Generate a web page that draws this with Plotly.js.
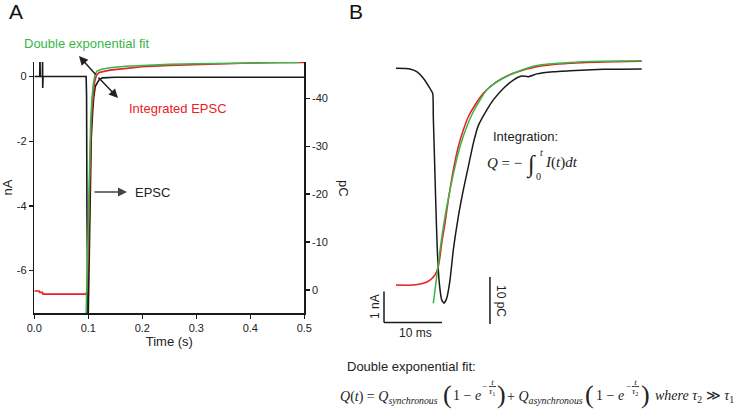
<!DOCTYPE html>
<html>
<head>
<meta charset="utf-8">
<script src="https://cdn.plot.ly/plotly-3.0.1.min.js"></script>
<style>html,body{margin:0;padding:0;background:#fff;}#chart{width:736px;height:412px;}</style>
</head>
<body>
<div id="chart"></div>
<script>
// ---------- Panel A data (time in s) ----------
const A_TIME_EPSC = [0, 0.0100, 0.0105, 0.0110, 0.0150, 0.0153, 0.0156, 0.0162, 0.0960, 0.0968, 0.0975, 0.0980, 0.0986, 0.0994, 0.1000, 0.1010, 0.1025, 0.1040, 0.1055, 0.1080, 0.1100, 0.1130, 0.1160, 0.1200, 0.1260, 0.1500, 0.3000, 0.5000];
const A_EPSC_NA   = [0, 0, 0.6, 0, 0, 0.6, -0.35, 0, 0, -0.6, -4.2, -6.8, -7.5, -7.58, -7.3, -6.0, -4.0, -2.7, -1.9, -1.1, -0.65, -0.3, -0.2, -0.1, -0.04, -0.02, -0.02, -0.02];

const A_TIME_INT = [0, 0.0090, 0.0100, 0.0150, 0.0160, 0.0955, 0.0975, 0.0990, 0.1000, 0.1010, 0.1020, 0.1035, 0.1050, 0.1070, 0.1090, 0.1115, 0.1150, 0.1200, 0.1400, 0.1700, 0.2000, 0.2500, 0.3000, 0.3500, 0.4000, 0.4500, 0.5000];
const A_INT_PC   = [0.2, 0.2, 0.5, 0.5, 0.85, 0.85, 0.3, -3, -8, -15, -21, -28, -33.5, -38, -41, -43.3, -44.8, -45.4, -45.9, -46.3, -46.6, -46.9, -47.1, -47.3, -47.4, -47.5, -47.5];

const A_TIME_FIT = [0.0960, 0.0970, 0.0980, 0.0990, 0.1000, 0.1012, 0.1027, 0.1045, 0.1065, 0.1090, 0.1120, 0.1160, 0.1250, 0.1400, 0.1700, 0.2000, 0.2500, 0.3000, 0.3500, 0.4000, 0.4500, 0.4900];
const A_FIT_PC   = [5.5, 0, -6, -12, -18, -24, -30, -35.5, -39.5, -42.8, -44.8, -45.7, -46.1, -46.4, -46.7, -46.9, -47.1, -47.25, -47.35, -47.45, -47.5, -47.5];

// ---------- Panel B data (time in ms) ----------
const B_TIME_EPSC = [90.0, 92.41, 93.57, 94.71, 95.86, 96.33, 96.43, 96.60, 96.84, 97.12, 97.47, 97.88, 98.28, 98.74, 99.31, 99.88, 100.74, 101.60, 102.47, 103.33, 104.19, 105.64, 106.78, 108.50, 110.22, 111.67, 112.81, 114.26, 117.12, 120.0, 125.74, 128.62, 132.36];
const B_EPSC_NA   = [0, -0.02, -0.11, -0.32, -0.65, -0.81, -1.56, -2.64, -4.25, -5.86, -6.94, -7.47, -7.58, -7.42, -6.83, -5.86, -4.79, -3.93, -3.17, -2.42, -1.85, -1.35, -1.02, -0.65, -0.38, -0.25, -0.27, -0.18, -0.11, -0.08, -0.03, -0.03, -0.02];

const B_TIME_INT = [90, 92.98, 94.71, 95.86, 96.72, 97.29, 97.59, 97.88, 98.45, 99.02, 99.88, 100.74, 101.60, 102.47, 103.62, 105.05, 107.36, 110.22, 114.26, 120.0, 125.74, 132.36];
const B_INT_PC   = [0, 0, -0.36, -1.06, -2.13, -3.89, -6.02, -8.87, -13.13, -18.09, -24.47, -29.43, -32.98, -35.81, -38.30, -40.79, -43.26, -45.04, -46.45, -47.17, -47.45, -47.60];

const B_TIME_FIT = [96.43, 97.02, 97.59, 98.45, 99.31, 100.17, 101.03, 102.19, 103.33, 104.48, 105.64, 107.93, 110.81, 114.26, 120.0, 125.74, 132.36];
const B_FIT_PC   = [3.89, -1.77, -7.45, -14.53, -20.21, -25.17, -29.43, -33.68, -36.87, -39.36, -41.49, -43.62, -45.32, -46.7, -47.35, -47.6, -47.72];

// ---------- Tick labels ----------
const TIME_TICKS = [0, 0.1, 0.2, 0.3, 0.4, 0.5];
const TIME_TICKTEXT = ['0.0', '0.1', '0.2', '0.3', '0.4', '0.5'];
const NA_TICKS = [0, -2, -4, -6];
const NA_TICKTEXT = ['0', '-2', '-4', '-6'];
const PC_TICKS = [-40, -30, -20, -10, 0];
const PC_TICKTEXT = ['-40', '-30', '-20', '-10', '0'];

// Scale bars for panel B (1 nA, 10 ms, 10 pC)
const SCALE_T0 = 87.93, SCALE_MS = 10, SCALE_NA_TOP = -7.2, SCALE_NA = 1;
const SCALE_PC_T = 106.2, SCALE_PC_TOP = -1.7, SCALE_PC = 10;

const W = 736, H = 412;
const px = v => v / W, py = v => 1 - v / H;

const BLACK = '#1a1a1a', RED = '#ec1c24', GREEN = '#39b54a';
const SANS = 'Liberation Sans, Arial, sans-serif';
const SERIF = 'Liberation Serif, Times New Roman, serif';

const traces = [
  {x: A_TIME_EPSC, y: A_EPSC_NA, xaxis: 'x', yaxis: 'y', mode: 'lines', line: {color: BLACK, width: 1.6}},
  {x: A_TIME_INT, y: A_INT_PC, xaxis: 'x', yaxis: 'y2', mode: 'lines', line: {color: RED, width: 1.6}},
  {x: A_TIME_FIT, y: A_FIT_PC, xaxis: 'x', yaxis: 'y2', mode: 'lines', line: {color: GREEN, width: 1.6}},
  {x: B_TIME_EPSC, y: B_EPSC_NA, xaxis: 'x2', yaxis: 'y3', mode: 'lines', line: {color: BLACK, width: 1.5, shape: 'spline', smoothing: 0.5}},
  {x: B_TIME_INT, y: B_INT_PC, xaxis: 'x2', yaxis: 'y4', mode: 'lines', line: {color: RED, width: 1.5, shape: 'spline', smoothing: 0.6}},
  {x: B_TIME_FIT, y: B_FIT_PC, xaxis: 'x2', yaxis: 'y4', mode: 'lines', line: {color: GREEN, width: 1.5, shape: 'spline', smoothing: 0.6}}
];

const axCommon = {showgrid: false, zeroline: false, showline: true, linecolor: BLACK, linewidth: 1.5,
  ticks: 'outside', ticklen: 4, tickwidth: 1.5, tickcolor: BLACK, tickfont: {family: SANS, size: 11, color: '#222'}};

function txt(text, x, y, opts) {
  return Object.assign({text: text, x: px(x), y: py(y), xref: 'paper', yref: 'paper', showarrow: false,
    xanchor: 'center', yanchor: 'middle', font: {family: SANS, size: 13, color: '#222'}}, opts || {});
}
function arrow(hx, hy, tx, ty, color) {
  return {text: '', x: px(hx), y: py(hy), xref: 'paper', yref: 'paper', showarrow: true,
    ax: tx - hx, ay: ty - hy, arrowhead: 2, arrowsize: 1.2, arrowwidth: 1.5, arrowcolor: color};
}
const mathFont = s => ({family: SERIF, size: s, color: '#222'});

const annotations = [
  txt('A', 16, 12, {font: {family: SANS, size: 21, color: '#111'}}),
  txt('B', 356, 12, {font: {family: SANS, size: 21, color: '#111'}}),
  txt('Double exponential fit', 86.5, 44, {font: {family: SANS, size: 13, color: GREEN}}),
  txt('Integrated EPSC', 177.5, 108.5, {font: {family: SANS, size: 13, color: RED}}),
  txt('EPSC', 152, 192.5, {font: {family: SANS, size: 13, color: '#222'}}),
  arrow(79, 56, 97, 76, '#222'),
  arrow(118, 98, 97, 76, '#222'),
  arrow(127, 192, 93, 192, '#444'),
  txt('pC', 344, 188, {textangle: 90, font: {family: SANS, size: 13, color: '#222'}}),
  // Panel B labels
  txt('Integration:', 525, 136.5),
  txt('<i>Q</i> = −', 524, 163, {xanchor: 'right', font: mathFont(15)}),
  txt('∫', 531, 165, {font: mathFont(24)}),
  txt('<i>t</i>', 541, 153, {font: mathFont(10)}),
  txt('0', 538, 177, {font: mathFont(10)}),
  txt('<i>I</i>(<i>t</i>)<i>dt</i>', 543, 163, {xanchor: 'left', font: mathFont(15)}),
  txt('1 nA', 375, 307, {textangle: -90, font: {family: SANS, size: 12, color: '#222'}}),
  txt('10 ms', 416, 333, {font: {family: SANS, size: 12, color: '#222'}}),
  txt('10 pC', 501, 301, {textangle: 90, font: {family: SANS, size: 12, color: '#222'}}),
  txt('Double exponential fit:', 411.5, 366.5),
  // Bottom formula
  txt('<i>Q</i>(<i>t</i>) = <i>Q</i><sub><i>synchronous</i></sub>', 338, 397, {xanchor: 'left', font: mathFont(14)}),
  txt('(', 447, 394, {font: mathFont(26)}),
  txt('1 − <i>e</i>', 451, 395, {xanchor: 'left', font: mathFont(14)}),
  txt('−', 485, 386, {font: mathFont(9)}),
  txt('<u> <i>t</i> </u>', 492, 382, {font: mathFont(9)}),
  txt('<i>τ</i><sub>1</sub>', 492, 391, {font: mathFont(9)}),
  txt(')', 501, 394, {font: mathFont(26)}),
  txt('+ <i>Q</i><sub><i>asynchronous</i></sub>', 505, 397, {xanchor: 'left', font: mathFont(14)}),
  txt('(', 589, 394, {font: mathFont(26)}),
  txt('1 − <i>e</i>', 594, 395, {xanchor: 'left', font: mathFont(14)}),
  txt('−', 628, 386, {font: mathFont(9)}),
  txt('<u> <i>t</i> </u>', 635, 382, {font: mathFont(9)}),
  txt('<i>τ</i><sub>2</sub>', 635, 391, {font: mathFont(9)}),
  txt(')', 645, 394, {font: mathFont(26)}),
  txt('<i>where τ</i><sub>2</sub> ≫ <i>τ</i><sub>1</sub>', 653, 396, {xanchor: 'left', font: mathFont(14)})
];

const shapes = [
  {type: 'line', xref: 'x2', yref: 'y3', x0: SCALE_T0, x1: SCALE_T0, y0: SCALE_NA_TOP, y1: SCALE_NA_TOP - SCALE_NA, line: {color: BLACK, width: 1.5}},
  {type: 'line', xref: 'x2', yref: 'y3', x0: SCALE_T0, x1: SCALE_T0 + SCALE_MS, y0: SCALE_NA_TOP - SCALE_NA, y1: SCALE_NA_TOP - SCALE_NA, line: {color: BLACK, width: 1.5}},
  {type: 'line', xref: 'x2', yref: 'y4', x0: SCALE_PC_T, x1: SCALE_PC_T, y0: SCALE_PC_TOP, y1: SCALE_PC_TOP + SCALE_PC, line: {color: BLACK, width: 1.5}}
];

const layout = {
  width: W, height: H, margin: {l: 0, r: 0, t: 0, b: 0},
  paper_bgcolor: '#fff', plot_bgcolor: 'rgba(0,0,0,0)', showlegend: false,
  xaxis: Object.assign({}, axCommon, {domain: [px(34.3), px(304.3)], range: [0, 0.5], anchor: 'y',
    tickvals: TIME_TICKS, ticktext: TIME_TICKTEXT,
    title: {text: 'Time (s)', font: {family: SANS, size: 13, color: '#222'}, standoff: 4}}),
  yaxis: Object.assign({}, axCommon, {domain: [1 - 313 / H, 1 - 62 / H], range: [-7.31, 0.45], anchor: 'x',
    tickvals: NA_TICKS, ticktext: NA_TICKTEXT,
    title: {text: 'nA', font: {family: SANS, size: 13, color: '#222'}, standoff: 2}}),
  yaxis2: Object.assign({}, axCommon, {overlaying: 'y', side: 'right', anchor: 'x', range: [4.8, -47.6],
    tickvals: PC_TICKS, ticktext: PC_TICKTEXT}),
  xaxis2: {domain: [px(380), px(660)], range: [87.24, 135.52], anchor: 'y3', visible: false},
  yaxis3: {domain: [1 - 340 / H, 1 - 40 / H], range: [-8.765, 0.913], anchor: 'x2', visible: false},
  yaxis4: {overlaying: 'y3', anchor: 'x2', range: [11.70, -52.13], visible: false},
  annotations: annotations,
  shapes: shapes
};

Plotly.newPlot('chart', traces, layout, {displayModeBar: false, staticPlot: true});
</script>
</body>
</html>
